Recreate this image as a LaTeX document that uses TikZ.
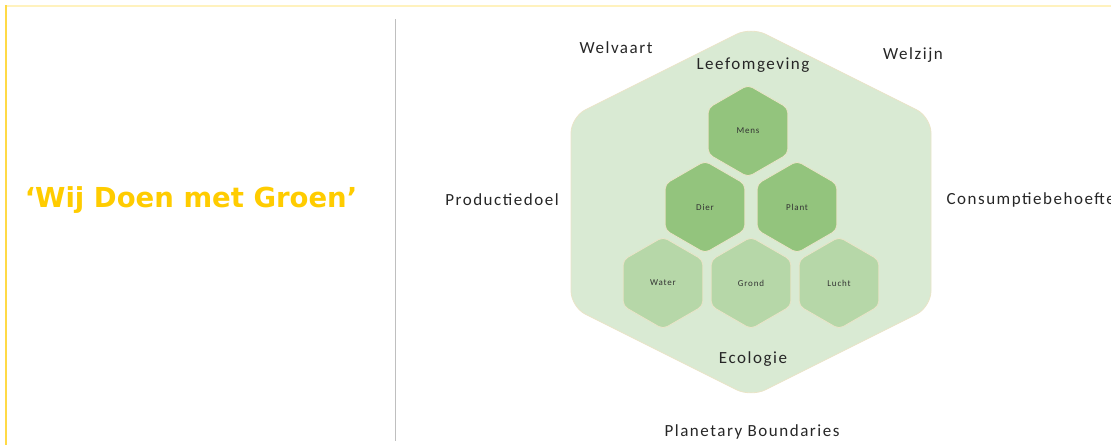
\documentclass[tikz,border=0pt]{standalone}
\usepackage{fontspec}
\setmainfont{Carlito}[LetterSpace=9]
\newfontfamily\titlefont{DejaVu Sans}
\usetikzlibrary{shapes.geometric}

\definecolor{leafbg}{RGB}{217,234,211}
\definecolor{leafdark}{RGB}{147,196,125}
\definecolor{leaflight}{RGB}{182,215,168}
\definecolor{leafedge}{RGB}{234,228,200}
\definecolor{titleyellow}{RGB}{255,204,0}
\definecolor{framepale}{RGB}{255,242,190}
\definecolor{framedeep}{RGB}{255,218,70}

\tikzset{
  hexcell/.style={regular polygon, regular polygon sides=6, shape border rotate=90,
    minimum size=92pt, inner sep=0pt, rounded corners=5pt, draw=leafedge,
    line width=0.8pt, font=\fontsize{9}{10}\selectfont, text=black!80},
  darkcell/.style={hexcell, fill=leafdark},
  lightcell/.style={hexcell, fill=leaflight},
  outerlabel/.style={font=\fontsize{17}{19}\selectfont, text=black!85}
}

\begin{document}
\begin{tikzpicture}[x=1pt, y=-1pt]

            \clip (0, 0) rectangle (1111, 445);

            % Frame
            %% Top and left edges
            \draw [framepale, line width=2pt] (6, 6) -- (1111, 6);
            \draw [framedeep, line width=2pt] (6, 5) -- (6, 445);

            %% Divider
            \draw [black!25, line width=1pt] (395, 19) -- (395, 441);

            % Title
            \node (title) at (191, 200) [font=\titlefont\bfseries\fontsize{27.5}{30}\selectfont, text=titleyellow] {‘Wij Doen met Groen’};

            % Outer hexagon
            \draw [fill=leafbg, draw=leafedge, line width=0.8pt, rounded corners=16pt]
                (571, 212) -- (571, 117) -- (751, 27) -- (931, 117) -- (931, 307)
                -- (751, 397) -- (571, 307) -- cycle;

            % Inner cells
            %% Top row
            \node (mens) at (748, 131) [darkcell] {Mens};

            %% Middle row
            \node (dier) at (705, 207) [darkcell] {Dier};
            \node (plant) at (797, 207) [darkcell] {Plant};

            %% Bottom row
            \node (water) at (663, 283) [lightcell] {Water};
            \node (grond) at (751, 283) [lightcell] {Grond};
            \node (lucht) at (839, 283) [lightcell] {Lucht};

            % Labels around
            \node (welvaart) at (616, 48) [outerlabel] {Welvaart};
            \node (leefomgeving) at (753, 65) [outerlabel] {Leefomgeving};
            \node (welzijn) at (913, 55) [outerlabel] {Welzijn};
            \node (productiedoel) at (502, 200) [outerlabel] {Productiedoel};
            \node (consumptie) at (943, 200) [outerlabel, anchor=west] {Consumptiebehoefte};
            \node (ecologie) at (753, 359) [outerlabel] {Ecologie};
            \node (planetary) at (752, 432) [outerlabel] {Planetary Boundaries};
        \end{tikzpicture}
\end{document}
